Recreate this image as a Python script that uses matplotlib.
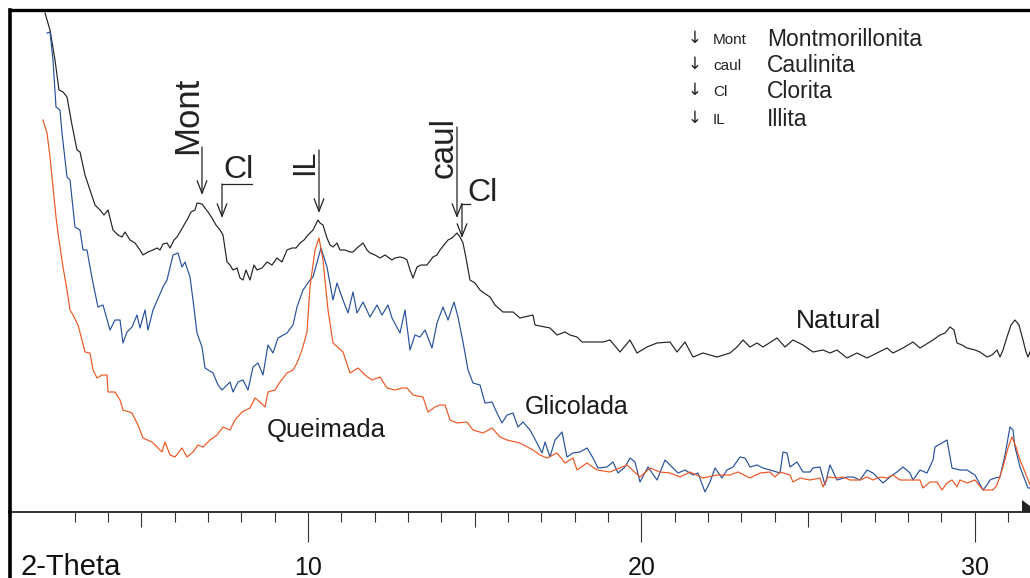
import matplotlib
matplotlib.use("Agg")
import matplotlib.pyplot as plt
from matplotlib.lines import Line2D
from matplotlib.patches import Polygon

plt.rcParams['font.family'] = ['Liberation Sans', 'DejaVu Sans']

# ---------------- data (2-theta in degrees, intensity in arbitrary counts) ----------------
natural_2theta = [2.11, 2.26, 2.41, 2.53, 2.65, 2.77, 2.92, 3.07, 3.16, 3.31, 3.46, 3.61, 3.76, 3.88, 4.00,
                  4.15, 4.30, 4.42, 4.51, 4.66, 4.81, 4.96, 5.05, 5.20, 5.35, 5.47, 5.56, 5.65, 5.77, 5.86,
                  5.98, 6.07, 6.16, 6.28, 6.37, 6.49, 6.61, 6.67, 6.82, 6.91, 7.00, 7.12, 7.24, 7.36, 7.45,
                  7.57, 7.66, 7.75, 7.87, 7.96, 8.05, 8.14, 8.26, 8.38, 8.47, 8.62, 8.77, 8.92, 9.07, 9.22,
                  9.37, 9.52, 9.64, 9.76, 9.88, 10.00, 10.15, 10.30, 10.36, 10.45, 10.57, 10.66, 10.75, 10.87,
                  10.96, 11.11, 11.26, 11.35, 11.47, 11.65, 11.77, 11.86, 12.01, 12.16, 12.31, 12.52, 12.61,
                  12.76, 12.88, 12.97, 13.06, 13.15, 13.27, 13.39, 13.57, 13.75, 13.87, 13.96, 14.08, 14.20,
                  14.32, 14.47, 14.56, 14.65, 14.74, 14.86, 15.01, 15.16, 15.28, 15.46,
                  15.61, 15.85, 16.15, 16.36, 16.75, 16.81, 17.26, 17.47, 17.71, 17.86, 18.07, 18.22, 18.85,
                  19.06, 19.36, 19.66, 19.87, 20.17, 20.47, 20.86, 21.07, 21.31, 21.55, 21.85, 22.27, 22.66,
                  22.87, 23.05, 23.26, 23.47, 23.65, 24.07, 24.31, 24.55, 24.85, 25.15, 25.45, 25.66, 25.87,
                  26.17, 26.47, 26.77, 27.07, 27.37, 27.55, 27.85, 28.15, 28.36, 28.75, 28.96, 29.11, 29.26,
                  29.38, 29.47, 29.62, 29.77, 30.01, 30.16, 30.37, 30.52, 30.67, 30.76, 30.85, 30.97, 31.09,
                  31.21, 31.33, 31.45, 31.54, 31.60, 31.66]
natural_counts = [499, 482, 452, 422, 420, 415, 387, 362, 360, 337, 322, 307, 302, 297, 302,
                  282, 277, 275, 280, 272, 269, 262, 257, 260, 262, 264, 262, 268, 269, 264,
                  272, 275, 280, 287, 292, 300, 302, 309, 308, 304, 300, 294, 287, 282, 277,
                  250, 247, 242, 244, 234, 232, 242, 232, 247, 242, 244, 250, 247, 254, 250,
                  262, 264, 264, 269, 272, 277, 282, 292, 289, 287, 274, 267, 265, 269,
                  262, 262, 260, 260, 264, 269, 262, 259, 257, 254, 257, 252, 254,
                  255, 254, 252, 242, 234, 245, 247, 247, 255, 257, 262, 267, 272,
                  274, 279, 275, 269, 254, 232, 229, 222, 219, 215,
                  207, 200, 200, 194, 197, 187, 184, 177, 180, 177, 175, 170, 170,
                  172, 160, 172, 159, 165, 169, 170, 160, 170, 155, 159, 155, 159,
                  165, 172, 165, 169, 165, 174, 165, 172, 167, 160, 162, 159, 162,
                  154, 159, 154, 159, 164, 159, 164, 170, 164, 172, 177, 179, 185,
                  182, 169, 167, 164, 162, 160, 155, 157, 162, 155, 162, 175, 187,
                  192, 187, 172, 160, 155, 160]

glicolada_2theta = [2.17, 2.26, 2.35, 2.44, 2.56, 2.62, 2.77, 2.86, 3.01, 3.16, 3.25, 3.37, 3.46, 3.55, 3.70,
                    3.85, 4.06, 4.21, 4.36, 4.45, 4.57, 4.72, 4.87, 4.96, 5.11, 5.20, 5.35, 5.65, 5.77, 5.95,
                    6.10, 6.22, 6.31, 6.46, 6.55, 6.67, 6.82, 6.91, 7.15, 7.30, 7.42, 7.66, 7.75, 7.90, 8.05,
                    8.20, 8.35, 8.50, 8.65, 8.80, 8.95, 9.10, 9.37, 9.55, 9.67, 9.85, 10.06, 10.15, 10.39,
                    10.57, 10.75, 10.87, 11.05, 11.20, 11.35, 11.47, 11.65, 11.86, 12.07, 12.22, 12.40, 12.52,
                    12.76, 12.91, 13.06, 13.21, 13.36, 13.51, 13.72, 13.87, 14.05, 14.20, 14.38, 14.50, 14.65,
                    14.80, 14.95, 15.16, 15.31, 15.52, 15.67, 15.82, 15.97, 16.15, 16.30, 16.45, 16.66, 16.87,
                    17.02, 17.11, 17.26, 17.41, 17.62, 17.77, 17.95, 18.16, 18.37, 18.55, 18.70, 18.97, 19.15,
                    19.30, 19.51, 19.66, 19.81, 19.96, 20.20, 20.47, 20.71, 20.92, 21.10, 21.31, 21.55, 21.70,
                    21.91, 22.06, 22.21, 22.42, 22.57, 22.75, 22.96, 23.11, 23.26, 23.47, 23.65, 23.86, 24.16,
                    24.25, 24.37, 24.46, 24.67, 24.85, 25.06, 25.15, 25.36, 25.51, 25.66, 25.87, 26.17, 26.35,
                    26.56, 26.77, 26.95, 27.25, 27.46, 27.67, 27.85, 28.06, 28.15, 28.36, 28.57, 28.75, 28.81,
                    29.02, 29.17, 29.32, 29.56, 29.77, 30.01, 30.25, 30.37, 30.46, 30.61, 30.76, 30.91, 31.06,
                    31.15, 31.21, 31.36, 31.51, 31.60, 31.66]
glicolada_counts = [479, 480, 452, 405, 402, 379, 335, 332, 285, 282, 262, 262, 245, 229, 205,
                    207, 182, 192, 192, 169, 180, 185, 197, 184, 202, 182, 202, 225, 232, 257,
                    259, 245, 250, 235, 212, 179, 165, 144, 139, 127, 122, 130, 120, 130, 132,
                    122, 145, 149, 137, 167, 159, 174, 179, 187, 205, 222, 232, 235, 264,
                    245, 212, 229, 212, 199, 220, 199, 210, 195, 207, 197, 207, 194,
                    179, 202, 162, 177, 175, 182, 164, 189, 205, 192, 210, 195, 170,
                    142, 129, 127, 109, 110, 99, 89, 97, 99, 85, 90, 82, 69,
                    59, 70, 55, 72, 80, 55, 59, 60, 64, 54, 44, 45, 50,
                    39, 45, 54, 50, 30, 45, 32, 52, 45, 39, 42, 37, 39,
                    20, 30, 44, 34, 42, 45, 55, 54, 45, 47, 44, 42, 39,
                    60, 59, 45, 50, 40, 40, 44, 45, 27, 47, 32, 35, 35,
                    32, 42, 39, 29, 35, 40, 45, 39, 32, 42, 39, 52, 65,
                    69, 72, 44, 42, 42, 37, 22, 27, 32, 34, 35, 57, 85,
                    82, 65, 45, 32, 24, 24]

queimada_2theta = [2.05, 2.17, 2.26, 2.35, 2.44, 2.50, 2.65, 2.77, 2.86, 2.95, 3.10, 3.22, 3.31, 3.46, 3.55,
                   3.67, 3.82, 3.97, 4.00, 4.21, 4.36, 4.45, 4.72, 4.87, 4.96, 5.05, 5.32, 5.47, 5.62, 5.71,
                   5.86, 6.01, 6.22, 6.37, 6.55, 6.70, 6.85, 7.06, 7.27, 7.45, 7.66, 7.81, 8.02, 8.26, 8.41,
                   8.56, 8.71, 8.80, 9.01, 9.16, 9.37, 9.55, 9.67, 9.82, 9.97, 10.06, 10.21, 10.33, 10.45,
                   10.60, 10.75, 11.05, 11.26, 11.50, 11.71, 11.92, 12.16, 12.37, 12.61, 12.82, 12.97, 13.15,
                   13.45, 13.60, 13.81, 13.96, 14.11, 14.26, 14.47, 14.77, 14.95, 15.25, 15.52, 15.76, 15.97,
                   16.36, 16.75, 16.96, 17.17, 17.47, 17.71, 17.95, 18.07, 18.37, 18.67, 19.06, 19.57, 19.96,
                   20.26, 20.56, 20.86, 21.16, 21.46, 21.85, 22.27, 22.66, 22.90, 23.26, 23.56, 23.86, 24.01,
                   24.16, 24.46, 24.55, 24.76, 25.06, 25.36, 25.45, 25.60, 25.87, 26.05, 26.26, 26.56, 26.77,
                   26.95, 27.16, 27.37, 27.55, 27.76, 28.06, 28.36, 28.45, 28.66, 28.87, 29.02, 29.17, 29.32,
                   29.47, 29.56, 29.77, 30.01, 30.25, 30.55, 30.67, 30.85, 31.00, 31.12, 31.24, 31.36, 31.51,
                   31.66]
queimada_counts = [392, 379, 355, 325, 295, 279, 245, 222, 202, 197, 187, 172, 160, 159, 142,
                   134, 137, 137, 120, 120, 112, 102, 99, 89, 82, 74, 70, 65, 60, 70,
                   57, 55, 64, 55, 60, 67, 65, 72, 77, 85, 82, 92, 100, 104, 114,
                   110, 105, 120, 122, 130, 139, 142, 149, 162, 180, 225, 262, 274, 252,
                   202, 169, 160, 139, 144, 137, 132, 135, 124, 122, 124, 124, 117,
                   115, 100, 105, 107, 107, 92, 89, 90, 82, 79, 84, 75, 72,
                   69, 62, 57, 54, 59, 49, 54, 42, 49, 42, 40, 47, 35,
                   44, 40, 39, 35, 40, 34, 37, 37, 40, 34, 39, 40, 35,
                   40, 37, 30, 34, 32, 34, 25, 35, 34, 35, 32, 32, 35,
                   32, 35, 34, 37, 32, 32, 32, 24, 30, 30, 22, 29, 32,
                   25, 32, 29, 32, 22, 22, 27, 45, 64, 75, 65, 52, 40,
                   27]

series_names = ["Natural", "Glicolada", "Queimada"]
tick_values = [10, 20, 30]
axis_title = "2-Theta"

legend_codes = ["Mont", "caul", "Cl", "IL"]
legend_names = ["Montmorillonita", "Caulinita", "Clorita", "Illita"]

# ---------------- figure ----------------
W, H = 1030, 578
fig = plt.figure(figsize=(W / 100, H / 100), dpi=100)
ax_l, ax_b = 10 / W, (H - 512) / H
ax_w, ax_h = 1020 / W, 502 / H
ax = fig.add_axes([ax_l, ax_b, ax_w, ax_h])

c_nat, c_gli, c_que = "#222222", "#27509e", "#ef5622"
ax.plot(natural_2theta, natural_counts, color=c_nat, lw=0.85)
ax.plot(glicolada_2theta, glicolada_counts, color=c_gli, lw=0.85)
ax.plot(queimada_2theta, queimada_counts, color=c_que, lw=0.85)

ax.set_xlim(1.06, 31.66)
ax.set_ylim(0, 502)

for s in ["right"]:
    ax.spines[s].set_visible(False)
ax.spines["top"].set_linewidth(2.4)
ax.spines["left"].set_linewidth(2.6)
ax.spines["bottom"].set_linewidth(1.4)
ax.spines["bottom"].set_color("#333333")
ax.set_yticks([])

ax.set_xticks(tick_values)
ax.set_xticklabels([str(v) for v in tick_values])
ax.set_xticks([v for v in range(3, 32) if v % 5 != 0], minor=True)
ax.tick_params(axis="x", which="major", direction="out", length=21.6, width=0.8,
               color="#333333", labelsize=18, pad=10, labelcolor="#111111")
ax.tick_params(axis="x", which="minor", direction="out", length=7.2, width=0.8, color="#333333")

sec = ax.secondary_xaxis("bottom")
sec.set_xticks([5, 15, 25])
sec.tick_params(direction="out", length=10.8, width=0.8, color="#333333", labelbottom=False)
sec.spines["bottom"].set_visible(False)

# left frame continues below the axis
fig.add_artist(Line2D([ax_l, ax_l], [0, ax_b], transform=fig.transFigure, lw=2.6, color="black"))
# small axis arrow head at right end
fig.add_artist(Polygon([[1022 / W, (H - 500) / H], [1030 / W, (H - 506) / H], [1030 / W, (H - 512) / H],
                        [1022 / W, (H - 512) / H]], closed=True, transform=fig.transFigure,
                       color="#222222", lw=0))

fig.text(20 / W, 3 / H, axis_title, fontsize=21, ha="left", va="baseline", color="#111111")

# ---------------- peak annotations ----------------
arrow_kw = dict(arrowstyle="->,head_length=0.9,head_width=0.35", lw=0.9, color="#222222",
                shrinkA=0, shrinkB=0)
txt_kw = dict(color="#222222")

ax.text(6.40, 397, "Mont", rotation=90, ha="center", va="center", fontsize=25, **txt_kw)
ax.annotate("", xy=(6.82, 317), xytext=(6.82, 365), arrowprops=arrow_kw)

ax.text(7.90, 342, "Cl", ha="center", va="center", fontsize=23, **txt_kw)
ax.plot([7.42, 8.32], [328, 328], color="#222222", lw=0.9)
ax.annotate("", xy=(7.42, 294), xytext=(7.42, 328), arrowprops=arrow_kw)

ax.text(9.90, 350, "IL", rotation=90, ha="center", va="center", fontsize=22, **txt_kw)
ax.annotate("", xy=(10.33, 299), xytext=(10.33, 362), arrowprops=arrow_kw)

ax.text(14.07, 364, "caul", rotation=90, ha="center", va="center", fontsize=24, **txt_kw)
ax.annotate("", xy=(14.47, 294), xytext=(14.47, 385), arrowprops=arrow_kw)

ax.text(15.22, 319, "Cl", ha="center", va="center", fontsize=23, **txt_kw)
ax.plot([14.62, 14.86], [308, 308], color="#222222", lw=0.9)
ax.annotate("", xy=(14.62, 274), xytext=(14.62, 308), arrowprops=arrow_kw)

# ---------------- curve labels ----------------
ax.text(25.93, 191, series_names[0], ha="center", va="center", fontsize=19, color="#1a1a1a")
ax.text(18.07, 105, series_names[1], ha="center", va="center", fontsize=18, color="#1a1a1a")
ax.text(10.54, 82, series_names[2], ha="center", va="center", fontsize=18.5, color="#1a1a1a")

# ---------------- key (top right) ----------------
rows_py = [40, 66, 92, 120]
for code, name, py in zip(legend_codes, legend_names, rows_py):
    yf = (512 - py) / 502
    ax.text((695 - 10) / 1020, yf + 0.004, "\u2193", transform=ax.transAxes, ha="center", va="center",
            fontsize=12, family=["DejaVu Sans"], color="#222222")
    ax.text((713 - 10) / 1020, yf, code, transform=ax.transAxes, ha="left", va="center",
            fontsize=11, color="#222222")
    ax.text((767 - 10) / 1020, yf, name, transform=ax.transAxes, ha="left", va="center",
            fontsize=16.5, color="#222222")

fig.savefig("out.png", dpi=100)
